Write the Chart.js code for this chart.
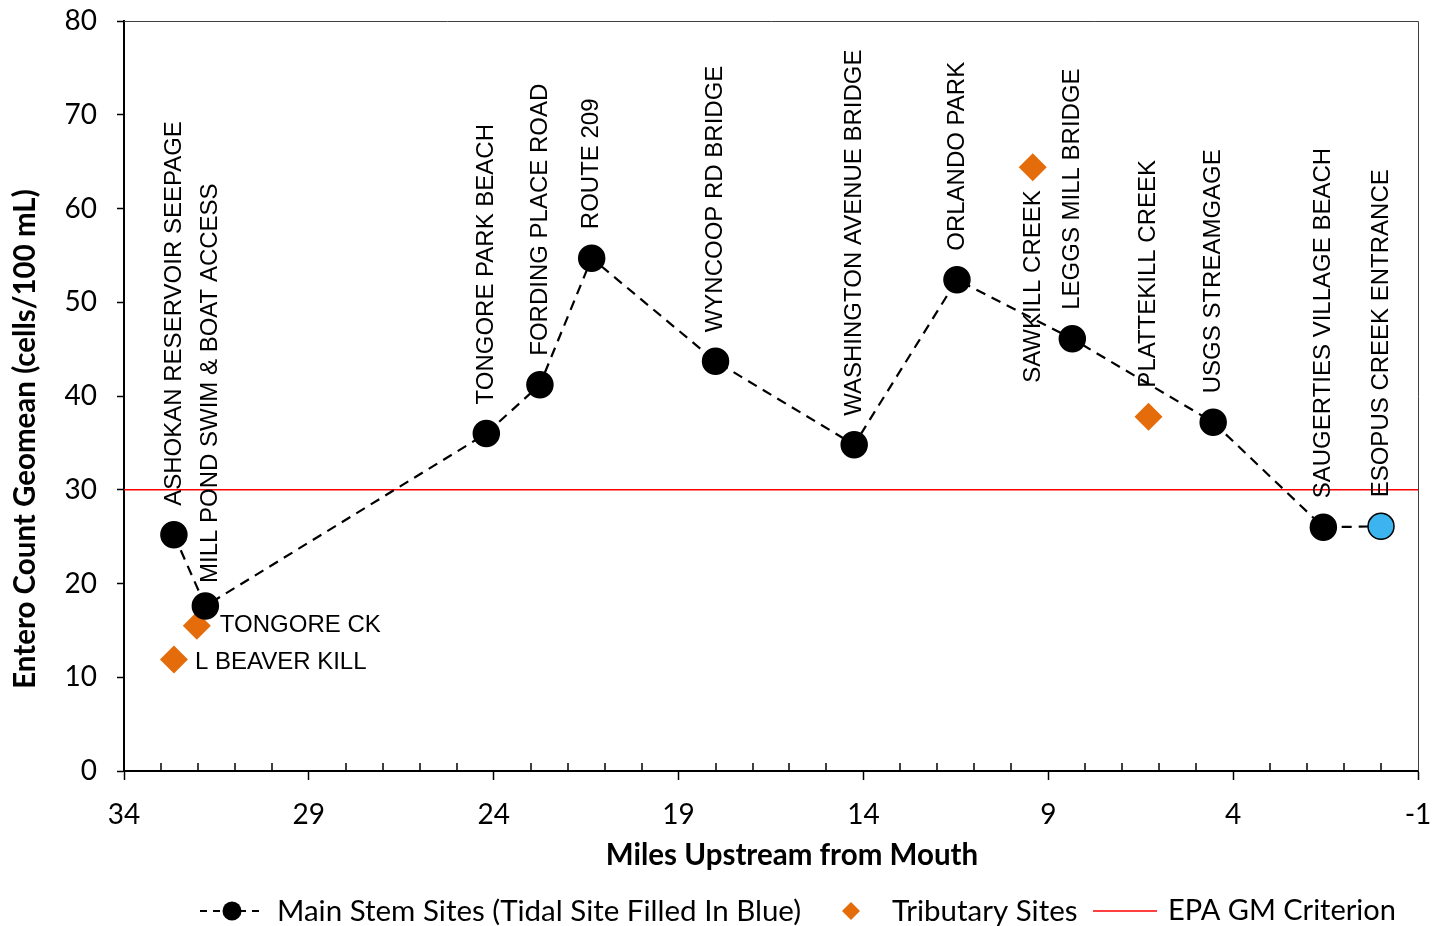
<!DOCTYPE html>
<html>
<head>
<meta charset="utf-8">
<script src="https://cdn.jsdelivr.net/npm/chart.js@4.4.1/dist/chart.umd.min.js"></script>
<style>
  html, body { margin: 0; padding: 0; background: #fff; }
</style>
</head>
<body>
<canvas id="chart" width="1434" height="926"></canvas>
<script>
// Main stem sites
const mainSites = ["ASHOKAN RESERVOIR SEEPAGE", "MILL POND SWIM & BOAT ACCESS", "TONGORE PARK BEACH",
  "FORDING PLACE ROAD", "ROUTE 209", "WYNCOOP RD BRIDGE", "WASHINGTON AVENUE BRIDGE", "ORLANDO PARK",
  "LEGGS MILL BRIDGE", "USGS STREAMGAGE", "SAUGERTIES VILLAGE BEACH", "ESOPUS CREEK ENTRANCE"];
const mainMiles = [32.65, 31.8, 24.2, 22.75, 21.35, 18.0, 14.25, 11.47, 8.35, 4.54, 1.56, 0];
const mainGeomean = [25.2, 17.6, 36.0, 41.2, 54.7, 43.7, 34.8, 52.4, 46.1, 37.2, 26.0, 26.1];
const tidalSite = "ESOPUS CREEK ENTRANCE";

// Tributary sites
const tribSites = ["L BEAVER KILL", "TONGORE CK", "SAWKILL CREEK", "PLATTEKILL CREEK"];
const tribMiles = [32.65, 32.03, 9.42, 6.29];
const tribGeomean = [11.9, 15.5, 64.4, 37.8];

// EPA geomean criterion
const criterion = 30;
const mileRange = [34, -1];

const legendLabels = ["Main Stem Sites (Tidal Site Filled In Blue)", "Tributary Sites", "EPA GM Criterion"];
const xTitle = "Miles Upstream from Mouth";
const yTitle = "Entero Count Geomean (cells/100 mL)";

const ORANGE = "#E46C0A";
const BLUE = "#3CB4F0";
const TICK_FONT = { family: "Lato, sans-serif", size: 28 };

// label placement for the site names (mode, gap / offset in px)
const labelPlace = {
  "MILL POND SWIM & BOAT ACCESS": { mode: "above", gap: 23, dx: 5 },
  "L BEAVER KILL": { mode: "right", dx: 21, dy: 3 },
  "TONGORE CK": { mode: "right", dx: 23, dy: 0 },
  "SAWKILL CREEK": { mode: "below", gap: 23, dx: 1 },
};

const siteLabels = {
  id: "siteLabels",
  afterDatasetsDraw(chart) {
    const ctx = chart.ctx;
    ctx.save();
    ctx.font = '24px "Liberation Sans", Arial, sans-serif';
    ctx.fillStyle = "#000";
    [[0, mainSites], [1, tribSites]].forEach(([di, names]) => {
      chart.getDatasetMeta(di).data.forEach((pt, i) => {
        const name = names[i];
        const p = labelPlace[name] || { mode: "above", gap: 29, dx: 0 };
        ctx.save();
        if (p.mode === "right") {
          ctx.textAlign = "left";
          ctx.textBaseline = "middle";
          ctx.fillText(name, pt.x + p.dx, pt.y + p.dy);
        } else {
          ctx.translate(pt.x + (p.dx || 0), p.mode === "above" ? pt.y - p.gap : pt.y + p.gap);
          ctx.rotate(-Math.PI / 2);
          ctx.textAlign = p.mode === "above" ? "left" : "right";
          ctx.textBaseline = "middle";
          ctx.fillText(name, 0, 0);
        }
        ctx.restore();
      });
    });
    ctx.restore();
  },
};

// frame, minor ticks, axis titles and legend
const decorations = {
  id: "decorations",
  afterDraw(chart) {
    const ctx = chart.ctx;
    const a = chart.chartArea;
    const xs = chart.scales.x;
    ctx.save();
    // top / right frame
    ctx.strokeStyle = "#404040";
    ctx.lineWidth = 1;
    ctx.beginPath();
    ctx.moveTo(a.left, a.top + 0.5);
    ctx.lineTo(a.right + 0.5, a.top + 0.5);
    ctx.lineTo(a.right + 0.5, a.bottom);
    ctx.stroke();
    // minor ticks every mile, pointing inward
    ctx.strokeStyle = "#000";
    ctx.lineWidth = 1.5;
    for (let m = mileRange[1]; m <= mileRange[0]; m++) {
      if ((mileRange[0] - m) % 5 === 0) continue;
      const px = Math.round(xs.getPixelForValue(m));
      ctx.beginPath();
      ctx.moveTo(px, a.bottom);
      ctx.lineTo(px, a.bottom - 8);
      ctx.stroke();
    }
    // axis titles
    ctx.fillStyle = "#000";
    ctx.font = 'bold 29.5px Lato, sans-serif';
    ctx.textAlign = "center";
    ctx.textBaseline = "middle";
    ctx.fillText(xTitle, 792, 855);
    ctx.save();
    ctx.translate(25, 439);
    ctx.rotate(-Math.PI / 2);
    ctx.fillText(yTitle, 0, 0);
    ctx.restore();
    // legend
    const ly = 911;
    ctx.strokeStyle = "#000";
    ctx.lineWidth = 2.2;
    ctx.setLineDash([7, 6]);
    ctx.beginPath();
    ctx.moveTo(200, ly);
    ctx.lineTo(264, ly);
    ctx.stroke();
    ctx.setLineDash([]);
    ctx.fillStyle = "#000";
    ctx.beginPath();
    ctx.arc(232, ly, 9.5, 0, Math.PI * 2);
    ctx.fill();
    ctx.fillStyle = ORANGE;
    ctx.beginPath();
    ctx.moveTo(851, ly - 9);
    ctx.lineTo(860, ly);
    ctx.lineTo(851, ly + 9);
    ctx.lineTo(842, ly);
    ctx.closePath();
    ctx.fill();
    ctx.strokeStyle = "#FF0000";
    ctx.lineWidth = 1.5;
    ctx.beginPath();
    ctx.moveTo(1093, ly);
    ctx.lineTo(1157, ly);
    ctx.stroke();
    ctx.fillStyle = "#000";
    ctx.font = '29.5px Lato, sans-serif';
    ctx.textAlign = "left";
    ctx.fillText(legendLabels[0], 277, ly);
    ctx.fillText(legendLabels[1], 892, ly);
    ctx.font = '29px Lato, sans-serif';
    ctx.fillText(legendLabels[2], 1168, ly);
    ctx.restore();
  },
};

const ctx = document.getElementById("chart").getContext("2d");
const chart = new Chart(ctx, {
  type: "scatter",
  data: {
    datasets: [
      {
        label: legendLabels[0],
        type: "line",
        data: mainMiles.map((m, i) => ({ x: m, y: mainGeomean[i] })),
        borderColor: "#000",
        borderWidth: 2.2,
        borderDash: [10, 7],
        showLine: true,
        fill: false,
        tension: 0,
        pointRadius: 13,
        pointHoverRadius: 13,
        pointBackgroundColor: mainSites.map((s) => (s === tidalSite ? BLUE : "#000")),
        pointBorderColor: "#000",
        pointBorderWidth: 1.5,
      },
      {
        label: legendLabels[1],
        data: tribMiles.map((m, i) => ({ x: m, y: tribGeomean[i] })),
        pointStyle: "rectRot",
        pointRadius: 14,
        pointHoverRadius: 14,
        backgroundColor: ORANGE,
        borderColor: ORANGE,
        borderWidth: 0,
      },
      {
        label: legendLabels[2],
        type: "line",
        data: mileRange.map((m) => ({ x: m, y: criterion })),
        borderColor: "#FF0000",
        borderWidth: 1.5,
        pointRadius: 0,
        fill: false,
      },
    ],
  },
  options: {
    responsive: false,
    animation: false,
    events: [],
    layout: { padding: { left: 0, right: 16, top: 21, bottom: 0 } },
    plugins: { legend: { display: false }, tooltip: { enabled: false } },
    scales: {
      x: {
        type: "linear",
        reverse: true,
        min: mileRange[1],
        max: mileRange[0],
        afterFit: (s) => {
          s.height = 155;
          s.paddingLeft = 0;
          s.paddingRight = 0;
        },
        ticks: { stepSize: 5, font: TICK_FONT, color: "#000", padding: 18, maxRotation: 0 },
        grid: { drawOnChartArea: false, drawTicks: true, tickLength: 9, tickColor: "#000", tickWidth: 1.5 },
        border: { color: "#000", width: 2 },
      },
      y: {
        min: 0,
        max: 80,
        afterFit: (s) => {
          s.width = 124;
          s.paddingTop = 0;
          s.paddingBottom = 0;
        },
        ticks: { stepSize: 10, font: TICK_FONT, color: "#000", padding: 20 },
        grid: { drawOnChartArea: false, drawTicks: true, tickLength: 7, tickColor: "#000", tickWidth: 1.5 },
        border: { color: "#000", width: 2 },
      },
    },
  },
  plugins: [siteLabels, decorations],
});
</script>
</body>
</html>
